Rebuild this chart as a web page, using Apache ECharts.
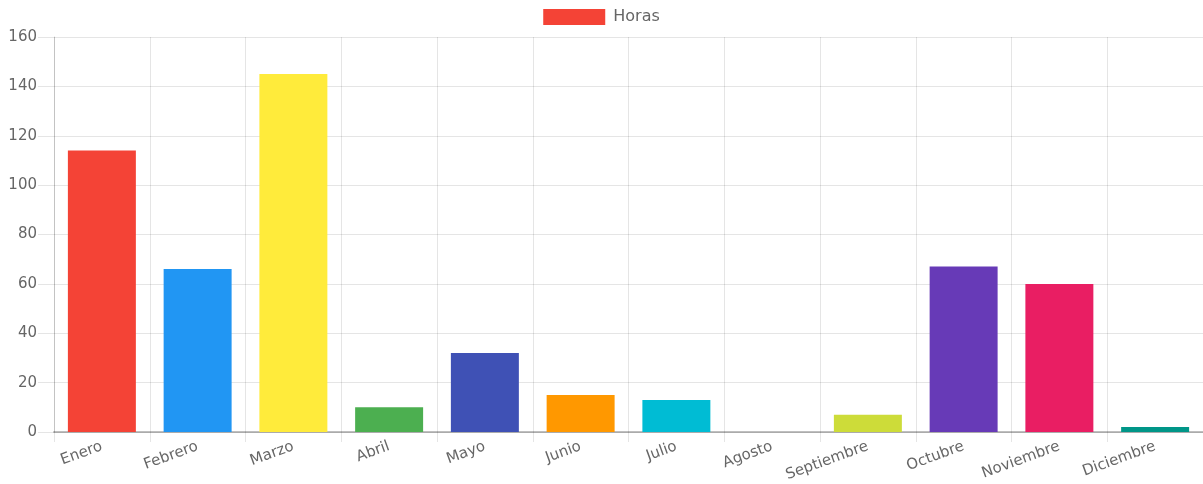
<!DOCTYPE html>
<html>
<head>
<meta charset="utf-8">
<script src="https://cdn.jsdelivr.net/npm/echarts@6/dist/echarts.min.js"></script>
<style>
html,body{margin:0;padding:0;background:#fff;}
#chart{width:1203px;height:484px;}
</style>
</head>
<body>
<div id="chart"></div>
<script>
const categories = ['Enero','Febrero','Marzo','Abril','Mayo','Junio','Julio','Agosto','Septiembre','Octubre','Noviembre','Diciembre'];
const horas = [114, 66, 145, 10, 32, 15, 13, 0, 7, 67, 60, 2];
const barColors = ['#F44336','#2196F3','#FFEB3B','#4CAF50','#3F51B5','#FF9800','#00BCD4','#9C27B0','#CDDC39','#673AB7','#E91E63','#009688'];
const seriesName = 'Horas';
const yTicks = {min: 0, max: 160, interval: 20};

const font = 'DejaVu Sans';
const chart = echarts.init(document.getElementById('chart'), null, {renderer: 'canvas'});
chart.setOption({
  animation: false,
  backgroundColor: '#fff',
  legend: {
    top: 4,
    left: 'center',
    itemWidth: 62,
    itemHeight: 16,
    itemGap: 10,
    icon: 'rect',
    textStyle: {color: '#666', fontSize: 16, fontFamily: font, padding: [0, 0, 0, 3]},
    data: [seriesName]
  },
  grid: {left: 54, right: 0, top: 37, bottom: 52, containLabel: false},
  xAxis: {
    type: 'category',
    data: categories,
    boundaryGap: true,
    axisLine: {show: true, lineStyle: {color: 'rgba(0,0,0,0.25)', width: 2}},
    axisTick: {show: true, length: 10, interval: 0, lineStyle: {color: 'rgba(0,0,0,0.1)'}},
    splitLine: {show: true, interval: 0, lineStyle: {color: 'rgba(0,0,0,0.1)'}},
    axisLabel: {
      interval: 0,
      rotate: 20,
      margin: 14,
      color: '#666',
      fontSize: 15,
      fontFamily: font
    }
  },
  yAxis: {
    type: 'value',
    min: yTicks.min,
    max: yTicks.max,
    interval: yTicks.interval,
    axisLine: {show: true, lineStyle: {color: 'rgba(0,0,0,0.15)'}},
    axisTick: {show: true, length: 16, lineStyle: {color: 'rgba(0,0,0,0.1)'}},
    splitLine: {show: true, lineStyle: {color: 'rgba(0,0,0,0.1)'}},
    axisLabel: {margin: 17, color: '#666', fontSize: 15, fontFamily: font}
  },
  series: [{
    name: seriesName,
    type: 'bar',
    barCategoryGap: '29%',
    itemStyle: {color: barColors[0]},
    data: horas.map((v, i) => ({value: v, itemStyle: {color: barColors[i]}}))
  }]
});
</script>
</body>
</html>
